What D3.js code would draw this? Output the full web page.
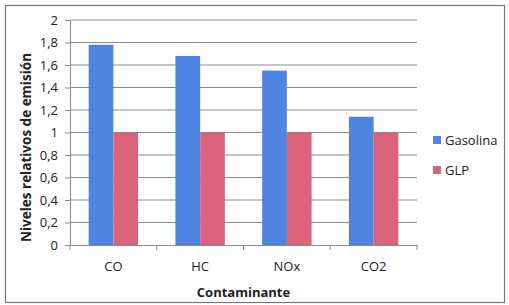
<!DOCTYPE html>
<html>
<head>
<meta charset="utf-8">
<script src="https://cdn.jsdelivr.net/npm/d3@7"></script>
<style>
  body { margin: 0; background: #fff; }
  text { font-family: "Open Sans", "Noto Sans", sans-serif; fill: #222; }
</style>
</head>
<body>
<svg id="chart"></svg>
<script>
'use strict'

const categories = ["CO", "HC", "NOx", "CO2"]
const seriesNames = ["Gasolina", "GLP"]
const gasolina = [1.78, 1.68, 1.55, 1.14]
const glp = [1, 1, 1, 1]
const yTicks = [0, 0.2, 0.4, 0.6, 0.8, 1, 1.2, 1.4, 1.6, 1.8, 2]
const colors = ["#4f84e0", "#d9637b"]

const width = 509, height = 305
const margin = { left: 70, right: 92, top: 20, bottom: 60 }
const plotW = width - margin.left - margin.right
const plotH = height - margin.top - margin.bottom

const svg = d3.select("#chart").attr("width", width).attr("height", height)

// outer frame
svg.append("rect")
  .attr("x", 5.5).attr("y", 5.5)
  .attr("width", 499).attr("height", 297)
  .attr("fill", "#fff").attr("stroke", "#777").attr("stroke-width", 1.2)

const g = svg.append("g").attr("transform", `translate(${margin.left},${margin.top})`)

const x = d3.scaleBand().domain(categories).range([0, plotW]).paddingInner(0.43).paddingOuter(0.215)
const x1 = d3.scaleBand().domain(seriesNames).range([0, x.bandwidth()])
const y = d3.scaleLinear().domain([0, 2]).range([plotH, 0])

// gridlines
g.append("g").selectAll("line").data(yTicks.slice(1)).enter().append("line")
  .attr("x1", 0).attr("x2", plotW)
  .attr("y1", d => y(d)).attr("y2", d => y(d))
  .attr("stroke", "#8a8a8a").attr("stroke-width", 1)

const rows = categories.map((c, i) => ({ cat: c, vals: [gasolina[i], glp[i]] }))

g.append("g").selectAll("g").data(rows).enter().append("g")
  .attr("transform", d => `translate(${x(d.cat)},0)`)
  .selectAll("rect").data(d => d.vals.map((v, j) => ({ name: seriesNames[j], v, j })))
  .enter().append("rect")
    .attr("x", d => x1(d.name))
    .attr("y", d => y(d.v))
    .attr("width", x1.bandwidth())
    .attr("height", d => plotH - y(d.v))
    .attr("fill", d => colors[d.j])

// y axis
const yAxis = g.append("g")
  .call(d3.axisLeft(y).tickValues(yTicks).tickSize(5).tickFormat(d => String(d).replace(".", ",")))
yAxis.select(".domain").attr("stroke", "#8a8a8a")
yAxis.selectAll(".tick line").attr("stroke", "#8a8a8a")
yAxis.selectAll(".tick text").attr("font-size", 13).attr("x", -12).style("fill", "#222")

// x axis
const xAxis = g.append("g").attr("transform", `translate(0,${plotH})`)
  .call(d3.axisBottom(x).tickSize(0))
xAxis.select(".domain").attr("stroke", "#8a8a8a")
xAxis.selectAll(".tick text").attr("font-size", 13).attr("dy", "1.75em").style("fill", "#222")
// category separators
const bounds = d3.range(categories.length + 1).map(i => i * plotW / categories.length)
xAxis.selectAll(".sep").data(bounds).enter().append("line")
  .attr("x1", d => d).attr("x2", d => d).attr("y1", 0).attr("y2", 5)
  .attr("stroke", "#8a8a8a")

// axis titles
svg.append("text")
  .attr("transform", `translate(31,${margin.top + plotH / 2 + 15}) rotate(-90)`)
  .attr("text-anchor", "middle").attr("font-size", 13.5).attr("font-weight", "bold")
  .text("Niveles relativos de emisión")

svg.append("text")
  .attr("x", margin.left + plotW / 2).attr("y", 297)
  .attr("text-anchor", "middle").attr("font-size", 13).attr("font-weight", "bold")
  .text("Contaminante")

// legend
const legend = svg.append("g").attr("transform", "translate(433,136)")
seriesNames.forEach((s, i) => {
  const row = legend.append("g").attr("transform", `translate(0,${i * 30})`)
  row.append("rect").attr("width", 8).attr("height", 8).attr("fill", colors[i])
  row.append("text").attr("x", 12).attr("y", 9).attr("font-size", 13).text(s)
})
</script>
</body>
</html>
